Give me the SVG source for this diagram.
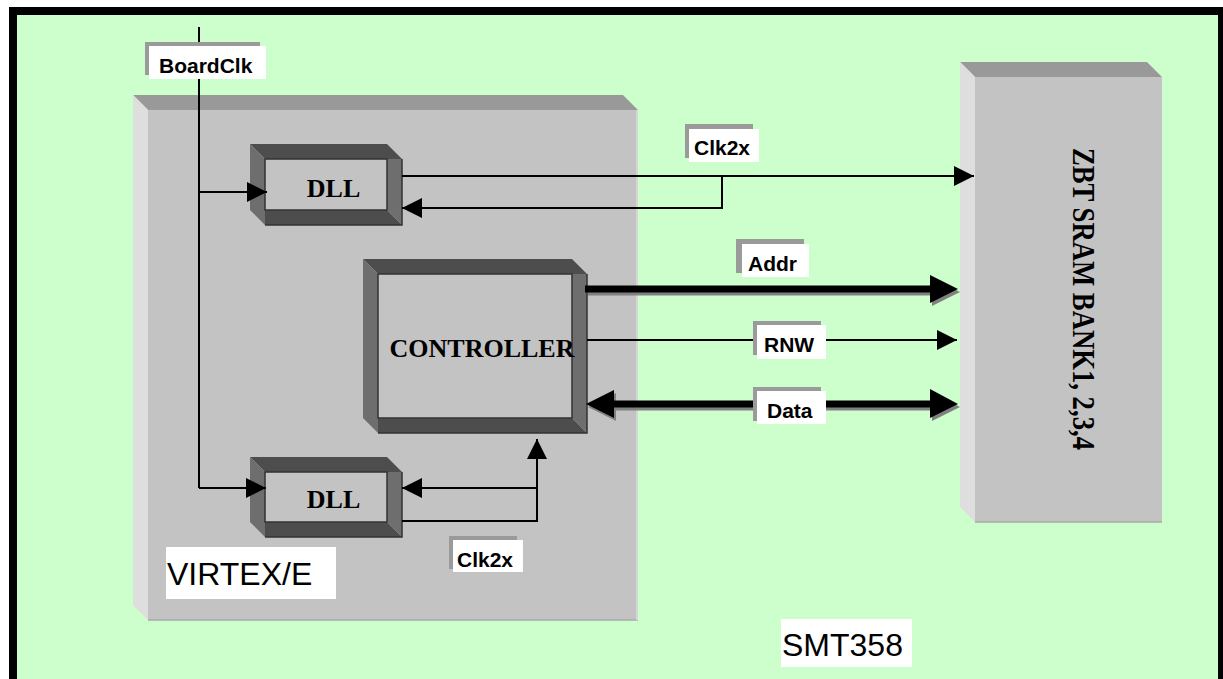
<svg xmlns="http://www.w3.org/2000/svg" width="1223" height="679" viewBox="0 0 1223 679">
<style>
.bg{fill:#ccffcc;stroke:#000;stroke-width:8}
.vtop{fill:#999999}
.vleft{fill:#dedede}
.vface{fill:#c3c3c3}
.bdark{fill:#4d4d4d}
.bmed{fill:#6e6e6e}
.bface{fill:#c3c3c3;stroke:#333;stroke-width:1.5}
.bedge{fill:none;stroke:#333;stroke-width:1.5}
.ser{font-family:"Liberation Serif","Times New Roman",serif;font-weight:bold;fill:#000}
.lbl{font-family:"Liberation Sans",Arial,sans-serif;font-weight:bold;font-size:21px;fill:#000}
.big{font-family:"Liberation Sans",Arial,sans-serif;font-size:32px;fill:#000}
.ln{fill:none;stroke:#000;stroke-width:2}
.thick{fill:none;stroke:#000;stroke-width:7}
.thicksh{fill:none;stroke:#808080;stroke-width:7}
.gsh{fill:#9a9a9a}
.wbox{fill:#fff}
</style>
<defs>
<marker id="ah" markerUnits="userSpaceOnUse" markerWidth="21" markerHeight="21" refX="20" refY="10" orient="auto" viewBox="0 0 21 21">
<path d="M0,0 L20,10 L0,20 Z" fill="#000"/>
</marker>
</defs>
<rect x="13" y="11" width="1209" height="700" class="bg"/>

<g id="virtex">
<polygon class="vtop" points="133,95 623,95 638,110 148,110"/>
<polygon class="vleft" points="133,95 148,110 148,620 133,605"/>
<rect class="vface" x="148" y="110" width="490" height="510"/>
<line x1="148" y1="620" x2="638" y2="620" stroke="#aaaaaa" stroke-width="1.5"/>
<line x1="637" y1="110" x2="637" y2="620" stroke="#d6d6d6" stroke-width="2"/>
<rect class="wbox" x="166" y="547" width="170" height="52"/>
<text class="big" x="167" y="585">VIRTEX/E</text>
</g>

<g id="zbt">
<polygon class="vtop" points="960,62 1147,62 1162,77 975,77"/>
<polygon class="vleft" points="960,62 975,77 975,522 960,507"/>
<rect class="vface" x="975" y="77" width="187" height="445"/>
<line x1="975" y1="522" x2="1162" y2="522" stroke="#aaaaaa" stroke-width="1.5"/>
<text class="ser" font-size="31" text-anchor="middle" textLength="302" lengthAdjust="spacingAndGlyphs" transform="translate(1073,299) rotate(90)" x="0" y="0">ZBT SRAM BANK1, 2,3,4</text>
</g>

<g id="dll1">
<polygon class="bdark" points="250,144 387,144 402,159 265,159"/>
<polygon class="bmed" points="250,144 265,159 265,225 250,210"/>
<polygon class="bdark" points="265,210 387,210 402,225 265,225"/>
<polygon class="bmed" points="387,159 402,159 402,225 387,210"/>
<rect class="bface" x="265" y="159" width="122" height="51"/>
<polyline class="bedge" points="402,159 402,225 265,225"/>
<text class="ser" font-size="26" x="333.5" y="197" text-anchor="middle">DLL</text>
</g>

<g id="dll2">
<polygon class="bdark" points="250,457 387,457 402,472 265,472"/>
<polygon class="bmed" points="250,457 265,472 265,537 250,522"/>
<polygon class="bdark" points="265,522 387,522 402,537 265,537"/>
<polygon class="bmed" points="387,472 402,472 402,537 387,522"/>
<rect class="bface" x="265" y="472" width="122" height="50"/>
<polyline class="bedge" points="402,472 402,537 265,537"/>
<text class="ser" font-size="26" x="333.5" y="508" text-anchor="middle">DLL</text>
</g>

<g id="controller">
<polygon class="bdark" points="363,259 572,259 587,274 378,274"/>
<polygon class="bmed" points="363,259 378,274 378,433 363,418"/>
<polygon class="bdark" points="378,418 572,418 587,433 378,433"/>
<polygon class="bmed" points="572,274 587,274 587,433 572,418"/>
<rect class="bface" x="378" y="274" width="194" height="144"/>
<polyline class="bedge" points="587,274 587,433 378,433"/>
<text class="ser" font-size="26" x="482" y="357" text-anchor="middle">CONTROLLER</text>
</g>

<g id="connectors">
<path class="ln" d="M199,27 V488"/>
<path class="ln" d="M199,192 H267" marker-end="url(#ah)"/>
<path class="ln" d="M199,488 H266" marker-end="url(#ah)"/>
<path class="ln" d="M402,176 H974" marker-end="url(#ah)"/>
<path class="ln" d="M722,176 V208 H402" marker-end="url(#ah)"/>
<path class="ln" d="M402,521 H537 V439" marker-end="url(#ah)"/>
<path class="ln" d="M537,488 H402" marker-end="url(#ah)"/>
<path class="ln" d="M587,340 H957" marker-end="url(#ah)"/>
<!-- Addr thick arrow with shadow -->
<path class="thicksh" d="M588,292 H933"/>
<polygon fill="#808080" points="932,278 960,292 932,306"/>
<path class="thick" d="M585,289 H931"/>
<polygon fill="#000" points="930,275 958,289 930,303"/>
<!-- Data double arrow with shadow -->
<path class="thicksh" d="M614,407 H933"/>
<polygon fill="#808080" points="616,393 588,407 616,421"/>
<polygon fill="#808080" points="932,392 960,407 932,421"/>
<path class="thick" d="M612,404 H931"/>
<polygon fill="#000" points="614,390 586,404 614,418"/>
<polygon fill="#000" points="930,389 958,404 930,418"/>
</g>

<g id="labels">
<g id="lbl-boardclk">
<rect class="gsh" x="145" y="42" width="115" height="33"/>
<rect class="wbox" x="149" y="46" width="117" height="33"/>
<text class="lbl" x="159" y="73">BoardClk</text>
</g>
<g id="lbl-clk2x-top">
<rect class="gsh" x="685" y="124" width="68" height="34"/>
<rect class="wbox" x="689" y="129" width="70" height="33"/>
<text class="lbl" x="694" y="155">Clk2x</text>
</g>
<g id="lbl-addr">
<rect class="gsh" x="736" y="239" width="68" height="34"/>
<rect class="wbox" x="742" y="244" width="67" height="33"/>
<text class="lbl" x="748" y="271">Addr</text>
</g>
<g id="lbl-rnw">
<rect class="gsh" x="753" y="321" width="68" height="34"/>
<rect class="wbox" x="757" y="325" width="69" height="34"/>
<text class="lbl" x="764" y="352">RNW</text>
</g>
<g id="lbl-data">
<rect class="gsh" x="753" y="387" width="68" height="34"/>
<rect class="wbox" x="757" y="391" width="69" height="33"/>
<text class="lbl" x="767" y="418">Data</text>
</g>
<g id="lbl-clk2x-bot">
<rect class="gsh" x="449" y="536" width="68" height="33"/>
<rect class="wbox" x="453" y="540" width="70" height="32"/>
<text class="lbl" x="457" y="567">Clk2x</text>
</g>
</g>

<g id="smt358">
<rect class="wbox" x="781" y="619" width="131" height="48"/>
<text class="big" x="782" y="656">SMT358</text>
</g>
</svg>
